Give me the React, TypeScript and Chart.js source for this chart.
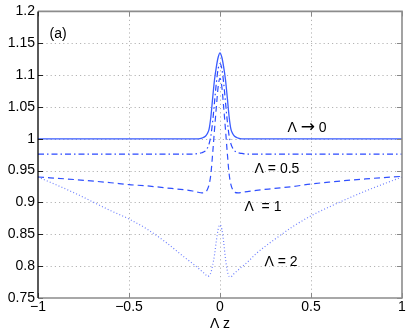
import { useEffect, useRef } from "react";
import { Chart, registerables } from "chart.js";

Chart.register(...registerables);

// ---- data ----
const xValues = [
  -1, -0.8, -0.6, -0.5, -0.4, -0.3, -0.2, -0.15, -0.12, -0.1, -0.08, -0.07, -0.06, -0.05, -0.04, -0.03, -0.02, -0.01,
  0, 0.01, 0.02, 0.03, 0.04, 0.05, 0.06, 0.07, 0.08, 0.1, 0.12, 0.15, 0.2, 0.3, 0.4, 0.5, 0.6, 0.8, 1,
];
const lambda0 = [
  1, 1, 1, 1, 1, 1, 1, 1, 1.0, 1.001, 1.004, 1.008, 1.015, 1.035, 1.065, 1.093, 1.113, 1.128,
  1.135, 1.128, 1.113, 1.093, 1.065, 1.035, 1.015, 1.008, 1.004, 1.001, 1, 1, 1, 1, 1, 1, 1, 1, 1,
];
const lambda05 = [
  0.976, 0.976, 0.976, 0.976, 0.976, 0.976, 0.976, 0.976, 0.977, 0.978, 0.981, 0.985, 0.992, 1.005, 1.028, 1.058, 1.088, 1.11,
  1.118, 1.11, 1.088, 1.058, 1.028, 1.005, 0.992, 0.985, 0.981, 0.978, 0.977, 0.976, 0.976, 0.976, 0.976, 0.976, 0.976, 0.976, 0.976,
];
const lambda1 = [
  0.94, 0.936, 0.931, 0.928, 0.926, 0.923, 0.92, 0.918, 0.916, 0.915, 0.916, 0.92, 0.928, 0.945, 0.978, 1.015, 1.05, 1.082,
  1.095, 1.082, 1.05, 1.015, 0.978, 0.945, 0.928, 0.92, 0.916, 0.915, 0.916, 0.917, 0.919, 0.922, 0.925, 0.929, 0.932, 0.937, 0.941,
];
const lambda2 = [
  0.94, 0.915, 0.887, 0.874, 0.858, 0.838, 0.815, 0.804, 0.797, 0.792, 0.787, 0.784, 0.785, 0.79, 0.802, 0.818, 0.84, 0.858,
  0.865, 0.858, 0.838, 0.812, 0.793, 0.784, 0.783, 0.786, 0.789, 0.794, 0.799, 0.806, 0.82, 0.842, 0.862, 0.879, 0.893, 0.918, 0.94,
];

const xTickValues = [-1, -0.5, 0, 0.5, 1];
const xTickLabels = ["\u22121", "\u22120.5", "0", "0.5", "1"];
const yTickValues = [0.75, 0.8, 0.85, 0.9, 0.95, 1, 1.05, 1.1, 1.15, 1.2];
const yTickLabels = ["0.75", "0.8", "0.85", "0.9", "0.95", "1", "1.05", "1.1", "1.15", "1.2"];

const curveLabels = ["\u039B \u2192 0", "\u039B = 0.5", "\u039B  = 1", "\u039B = 2"];
const panelLabel = "(a)";
const xTitle = "\u039B z";

// ---- layout / styles ----
const FONT = '"Liberation Sans", Arial, Helvetica, sans-serif';
const ARROW_FONT = '17px "DejaVu Sans", sans-serif';
const labelPositions = [
  { x: 0.478, y: 1.016 },
  { x: 0.313, y: 0.953 },
  { x: 0.236, y: 0.892 },
  { x: 0.335, y: 0.806 },
];
const panelPosition = { x: -0.89, y: 1.164 };

function drawLabel(ctx: CanvasRenderingContext2D, text: string, cx: number, cy: number) {
  const parts = text.split(/(\u2192)/).filter((p) => p.length > 0);
  const baseFont = `14px ${FONT}`;
  const widths = parts.map((p) => {
    ctx.font = p === "\u2192" ? ARROW_FONT : baseFont;
    return ctx.measureText(p).width;
  });
  const total = widths.reduce((s, w) => s + w, 0);
  let x = cx - total / 2;
  ctx.textAlign = "left";
  ctx.textBaseline = "middle";
  parts.forEach((p, i) => {
    ctx.font = p === "\u2192" ? ARROW_FONT : baseFont;
    ctx.fillText(p, x, p === "\u2192" ? cy - 1 : cy);
    x += widths[i];
  });
}

const framePlugin = {
  id: "matlabFrame",
  beforeDatasetsDraw(chart: any) {
    const { ctx, chartArea: a, scales } = chart;
    ctx.save();
    ctx.strokeStyle = "#b4b4b4";
    ctx.lineWidth = 1;
    ctx.setLineDash([1.2, 3]);
    xTickValues.forEach((v) => {
      if (v === xTickValues[0] || v === xTickValues[xTickValues.length - 1]) return;
      const px = Math.round(scales.x.getPixelForValue(v)) + 0.5;
      ctx.beginPath();
      ctx.moveTo(px, a.top);
      ctx.lineTo(px, a.bottom);
      ctx.stroke();
    });
    yTickValues.forEach((v) => {
      if (v === yTickValues[0] || v === yTickValues[yTickValues.length - 1]) return;
      const py = Math.round(scales.y.getPixelForValue(v)) + 0.5;
      ctx.beginPath();
      ctx.moveTo(a.left, py);
      ctx.lineTo(a.right, py);
      ctx.stroke();
    });
    ctx.restore();
  },
  afterDatasetsDraw(chart: any) {
    const { ctx, chartArea: a, scales } = chart;
    ctx.save();
    ctx.setLineDash([]);
    const tl = 5;
    ctx.lineWidth = 1;
    xTickValues.forEach((v) => {
      const px = Math.round(scales.x.getPixelForValue(v)) + 0.5;
      ctx.strokeStyle = "#888";
      ctx.beginPath();
      ctx.moveTo(px, a.bottom);
      ctx.lineTo(px, a.bottom - tl);
      ctx.moveTo(px, a.top);
      ctx.lineTo(px, a.top + tl);
      ctx.stroke();
    });
    yTickValues.forEach((v) => {
      const py = Math.round(scales.y.getPixelForValue(v)) + 0.5;
      ctx.strokeStyle = "#222";
      ctx.beginPath();
      ctx.moveTo(a.left, py);
      ctx.lineTo(a.left + tl, py);
      ctx.stroke();
      ctx.strokeStyle = "#888";
      ctx.beginPath();
      ctx.moveTo(a.right, py);
      ctx.lineTo(a.right - tl, py);
      ctx.stroke();
    });
    ctx.lineWidth = 1.6;
    ctx.strokeStyle = "#8c8c8c";
    ctx.beginPath();
    ctx.moveTo(a.left, a.top);
    ctx.lineTo(a.right, a.top);
    ctx.lineTo(a.right, a.bottom);
    ctx.lineTo(a.left, a.bottom);
    ctx.stroke();
    ctx.lineWidth = 1.3;
    ctx.strokeStyle = "#000";
    ctx.beginPath();
    ctx.moveTo(a.left, a.top);
    ctx.lineTo(a.left, a.bottom);
    ctx.stroke();
    ctx.fillStyle = "#000";
    curveLabels.forEach((t, i) => {
      const p = labelPositions[i];
      drawLabel(ctx, t, scales.x.getPixelForValue(p.x), scales.y.getPixelForValue(p.y));
    });
    drawLabel(ctx, panelLabel, scales.x.getPixelForValue(panelPosition.x), scales.y.getPixelForValue(panelPosition.y));
    ctx.restore();
  },
};

function toPoints(ys: number[]) {
  return xValues.map((x, i) => ({ x, y: ys[i] }));
}

export default function App() {
  const ref = useRef<HTMLCanvasElement | null>(null);
  useEffect(() => {
    if (!ref.current) return;
    const chart = new Chart(ref.current, {
      type: "line",
      data: {
        datasets: [
          {
            label: curveLabels[3],
            data: toPoints(lambda2),
            borderColor: "#6f80ff",
            borderWidth: 1.2,
            borderDash: [1, 2.2],
            pointRadius: 0,
            cubicInterpolationMode: "monotone",
          },
          {
            label: curveLabels[2],
            data: toPoints(lambda1),
            borderColor: "#3050ff",
            borderWidth: 1.2,
            borderDash: [6, 4],
            pointRadius: 0,
            cubicInterpolationMode: "monotone",
          },
          {
            label: curveLabels[1],
            data: toPoints(lambda05),
            borderColor: "#2a48ff",
            borderWidth: 1.2,
            borderDash: [6, 3, 1.5, 3],
            pointRadius: 0,
            cubicInterpolationMode: "monotone",
          },
          {
            label: curveLabels[0],
            data: toPoints(lambda0),
            borderColor: "#3a5cff",
            borderWidth: 1.3,
            pointRadius: 0,
            cubicInterpolationMode: "monotone",
          },
        ],
      },
      options: {
        animation: false,
        responsive: false,
        layout: { padding: { top: 10, right: 7, left: 0, bottom: 0 } },
        plugins: { legend: { display: false }, tooltip: { enabled: false } },
        scales: {
          x: {
            type: "linear",
            min: -1,
            max: 1,
            grid: { display: false, drawTicks: false },
            border: { display: false },
            afterBuildTicks: (s: any) => {
              s.ticks = xTickValues.map((value) => ({ value }));
            },
            afterFit: (s: any) => {
              s.height = 38;
            },
            ticks: {
              autoSkip: false,
              maxRotation: 0,
              padding: 1,
              color: "#000",
              font: { family: FONT, size: 14 },
              callback: (_v: any, i: number) => xTickLabels[i],
            },
            title: {
              display: true,
              text: xTitle,
              color: "#000",
              font: { family: FONT, size: 14 },
              padding: { top: 0, bottom: 3 },
            },
          },
          y: {
            type: "linear",
            min: 0.75,
            max: 1.2,
            grid: { display: false, drawTicks: false },
            border: { display: false },
            afterBuildTicks: (s: any) => {
              s.ticks = yTickValues.map((value) => ({ value }));
            },
            afterFit: (s: any) => {
              s.width = 38;
            },
            ticks: {
              autoSkip: false,
              padding: 3,
              color: "#000",
              font: { family: FONT, size: 14 },
              callback: (_v: any, i: number) => yTickLabels[i],
            },
          },
        },
      },
      plugins: [framePlugin],
    });
    return () => chart.destroy();
  }, []);
  return (
    <div style={{ position: "fixed", left: 0, top: 0, width: 409, height: 336, background: "#fff" }}>
      <canvas ref={ref} width={409} height={336} style={{ display: "block" }} />
    </div>
  );
}
